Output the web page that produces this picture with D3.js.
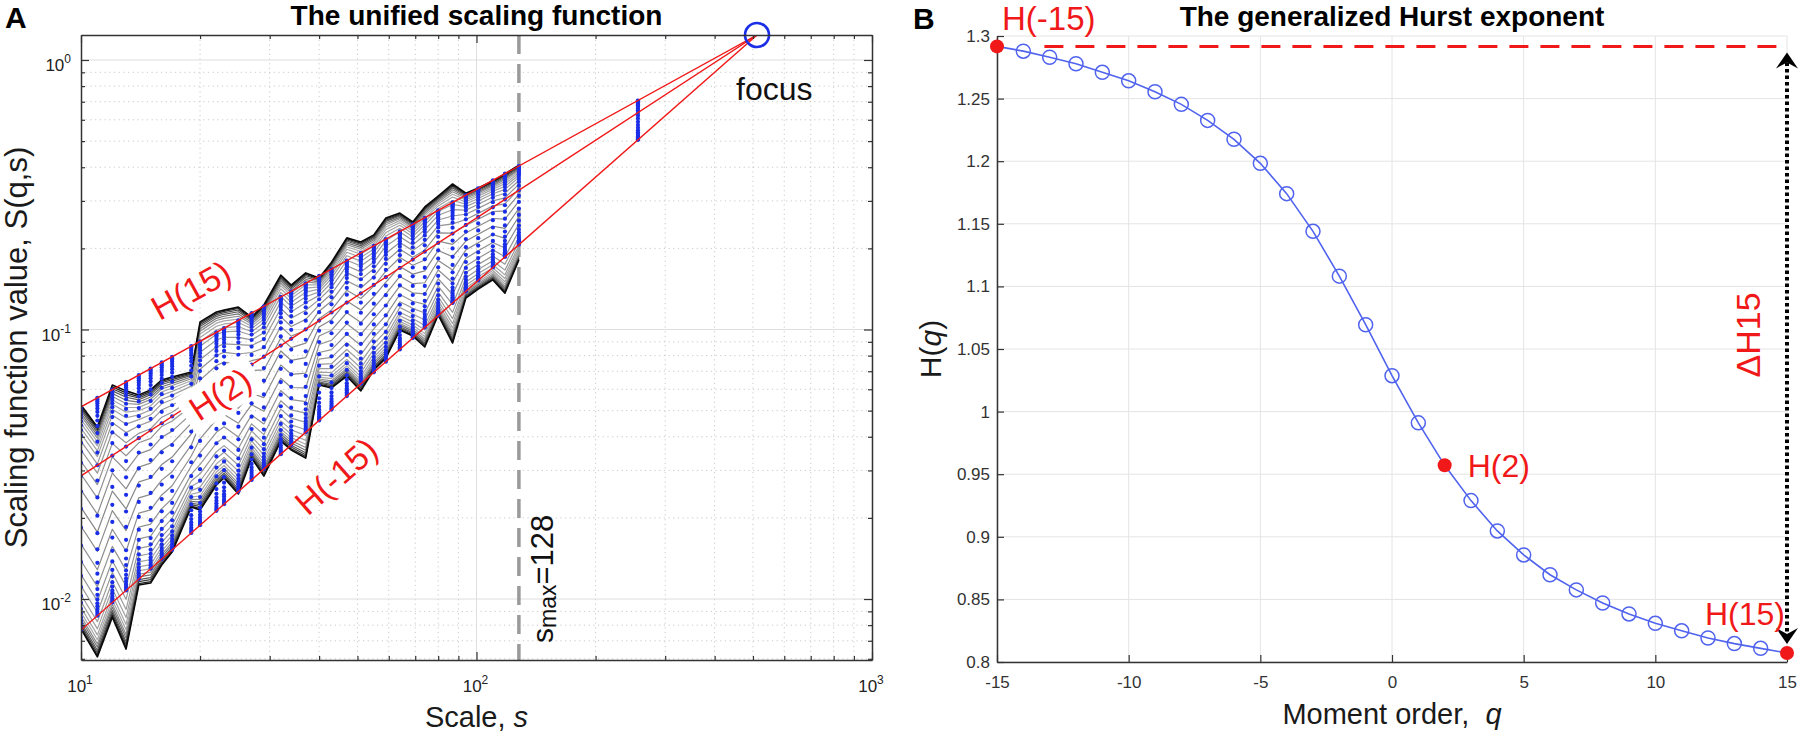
<!DOCTYPE html>
<html>
<head>
<meta charset="utf-8">
<script src="https://cdn.jsdelivr.net/npm/d3@7"></script>
<style>
  html, body { margin: 0; padding: 0; background: #fff; }
  svg { display: block; font-family: 'Liberation Sans', Arial, Helvetica, sans-serif; }
</style>
</head>
<body>
<svg id="chart" width="1800" height="736"></svg>
<script>
/* eslint-disable no-undef */

// window sizes s used in panel A (log spaced, rounded)
const scales = [10, 11, 12, 13, 14, 15, 16, 17, 19, 20, 22, 23, 25, 27, 29, 32, 34, 37, 40, 43, 47, 51, 55, 59, 64, 69, 74, 80, 87, 94, 101, 110, 118, 128]

// S(q,s) of the two outermost moment orders
const sQ15 = [0.0525, 0.0435, 0.0622, 0.0592, 0.0571, 0.0597, 0.0650, 0.0667, 0.0695, 0.1067, 0.1161, 0.1180, 0.1211, 0.1112, 0.1233, 0.1592, 0.1462, 0.1622, 0.1552, 0.1778, 0.2188, 0.2113, 0.2244, 0.2594, 0.2704, 0.2506, 0.2851, 0.3126, 0.3467, 0.3206, 0.3350, 0.3556, 0.3776, 0.4074]
const sQm15 = [0.00774, 0.00610, 0.00857, 0.00652, 0.01127, 0.01146, 0.01337, 0.01493, 0.02193, 0.02138, 0.02649, 0.02812, 0.02455, 0.03334, 0.02858, 0.03855, 0.03573, 0.03334, 0.0622, 0.0607, 0.0671, 0.0592, 0.0708, 0.0783, 0.0995, 0.0946, 0.0861, 0.1132, 0.0891, 0.1309, 0.1413, 0.1528, 0.1365, 0.1811]

// moment orders and generalized Hurst exponent (panel B)
const qOrders = [-15, -14, -13, -12, -11, -10, -9, -8, -7, -6, -5, -4, -3, -2, -1, 0, 1, 2, 3, 4, 5, 6, 7, 8, 9, 10, 11, 12, 13, 14, 15]
const hurst = [1.2917, 1.2879, 1.2830, 1.2778, 1.2710, 1.2642, 1.2555, 1.2454, 1.2326, 1.2175, 1.1983, 1.1741, 1.1440, 1.1082, 1.0694, 1.0287, 0.9910, 0.9571, 0.9289, 0.9047, 0.8855, 0.8697, 0.8576, 0.8471, 0.8384, 0.8309, 0.8249, 0.8192, 0.8147, 0.8109, 0.8072]

// focus of the fitted lines, extrapolated scale, s max
const focusPoint = { s: 512, value: 1.238 }
const extrapScale = 256
const smax = 128
const fitOrders = [15, 2, -15]
const markedOrders = [-15, 2, 15]

// ticks
const xTicksA = [10, 100, 1000]
const yTicksA = [0.01, 0.1, 1]
const minorSteps = [2, 3, 4, 5, 6, 7, 8, 9]
const qTicks = [-15, -10, -5, 0, 5, 10, 15]
const hTicks = [0.8, 0.85, 0.9, 0.95, 1, 1.05, 1.1, 1.15, 1.2, 1.25, 1.3]

const svg = d3.select('#chart')
const red = '#f01818'
const blue = '#1a2ee8'

const hOf = q => hurst[qOrders.indexOf(q)]

// ---------------- Panel A ----------------
const pa = { left: 81, top: 35, right: 872, bottom: 660 }
const xA = d3.scaleLog().domain([10, 1000]).range([pa.left, pa.right])
const yA = d3.scaleLog().domain([0.00594, focusPoint.value]).range([pa.bottom, pa.top])
const gA = svg.append('g')

gA.append('clipPath').attr('id', 'clipA')
  .append('rect')
  .attr('x', pa.left).attr('y', pa.top)
  .attr('width', pa.right - pa.left).attr('height', pa.bottom - pa.top)

// grid
const minorX = [10, 100].flatMap(d => minorSteps.map(m => d * m))
const minorY = [0.001, 0.01, 0.1].flatMap(d => minorSteps.map(m => d * m))
  .filter(v => v > yA.domain()[0] && v < yA.domain()[1])

const grid = gA.append('g')
grid.selectAll('.mx').data(minorX).join('line')
  .attr('x1', d => xA(d)).attr('x2', d => xA(d))
  .attr('y1', pa.top).attr('y2', pa.bottom)
  .attr('stroke', '#c9c9c9').attr('stroke-dasharray', '1.2,3.5')
grid.selectAll('.my').data(minorY).join('line')
  .attr('y1', d => yA(d)).attr('y2', d => yA(d))
  .attr('x1', pa.left).attr('x2', pa.right)
  .attr('stroke', '#c9c9c9').attr('stroke-dasharray', '1.2,3.5')
grid.selectAll('.gx').data(xTicksA.slice(1, -1)).join('line')
  .attr('x1', d => xA(d)).attr('x2', d => xA(d))
  .attr('y1', pa.top).attr('y2', pa.bottom)
  .attr('stroke', '#dedede')
grid.selectAll('.gy').data(yTicksA).join('line')
  .attr('y1', d => yA(d)).attr('y2', d => yA(d))
  .attr('x1', pa.left).attr('x2', pa.right)
  .attr('stroke', '#dedede')

// s max dashed line
gA.append('line')
  .attr('x1', xA(smax)).attr('x2', xA(smax))
  .attr('y1', pa.top).attr('y2', pa.bottom)
  .attr('stroke', '#9a9a9a').attr('stroke-width', 3.5)
  .attr('stroke-dasharray', '19,10')

// fitted value of the q-order line through the focus
const fitLog = (h, s) => Math.log10(focusPoint.value) + h * (Math.log10(s) - Math.log10(focusPoint.s))

// gray S(q,s) lines: fitted line plus the deviations of the outer orders
const hTop = hOf(15)
const hBot = hOf(-15)
const devTop = scales.map((s, i) => Math.log10(sQ15[i]) - fitLog(hTop, s))
const devBot = scales.map((s, i) => Math.log10(sQm15[i]) - fitLog(hBot, s))
const qLines = qOrders.map((q, k) => {
  const w = (hurst[k] - hTop) / (hBot - hTop)
  return {
    q,
    pts: scales.map((s, i) => ({ s, v: Math.pow(10, fitLog(hurst[k], s) + (1 - w) * devTop[i] + w * devBot[i]) }))
  }
}).sort((a, b) => Math.abs(a.q) - Math.abs(b.q))

// dark at the outer orders, lighter towards the middle
const grayScale = d3.scaleLinear().domain([0, 9, 15]).range([135, 168, 10])
const grayOf = q => {
  const g = Math.round(grayScale(Math.abs(q)))
  return `rgb(${g},${g},${g})`
}

const lineA = d3.line().x(d => xA(d.s)).y(d => yA(d.v))
const data = gA.append('g').attr('clip-path', 'url(#clipA)')
data.selectAll('.qline').data(qLines).join('path')
  .attr('fill', 'none')
  .attr('stroke', d => grayOf(d.q))
  .attr('stroke-width', d => Math.abs(d.q) === 15 ? 1.6 : 1.2)
  .attr('stroke-linejoin', 'round')
  .attr('d', d => lineA(d.pts))

// blue fitted points at every scale and at the extrapolated one
const fitPts = scales.concat([extrapScale]).flatMap(s => hurst.map(h => ({ s, v: Math.pow(10, fitLog(h, s)) })))
data.selectAll('.fp').data(fitPts).join('circle')
  .attr('cx', d => xA(d.s)).attr('cy', d => yA(d.v))
  .attr('r', 2.1).attr('fill', blue)

// red fit lines to the focus
data.selectAll('.fit').data(fitOrders).join('path')
  .attr('fill', 'none').attr('stroke', red).attr('stroke-width', 1.4)
  .attr('d', q => lineA([scales[0], focusPoint.s].map(s => ({ s, v: Math.pow(10, fitLog(hOf(q), s)) }))))

// focus
gA.append('circle')
  .attr('cx', xA(focusPoint.s)).attr('cy', yA(focusPoint.value))
  .attr('r', 12).attr('fill', 'none').attr('stroke', blue).attr('stroke-width', 2.6)
gA.append('text').attr('x', 736).attr('y', 100)
  .attr('font-size', 32).attr('fill', '#111').text('focus')

// labels along the fit lines
const angleOf = q => {
  const x0 = xA(scales[0]); const y0 = yA(Math.pow(10, fitLog(hOf(q), scales[0])))
  const x1 = xA(focusPoint.s); const y1 = yA(focusPoint.value)
  return Math.atan2(y1 - y0, x1 - x0) * 180 / Math.PI
}
const fitLabels = [
  { q: 15, text: 'H(15)', cx: 191, cy: 290, bg: false },
  { q: 2, text: 'H(2)', cx: 220, cy: 394, bg: true },
  { q: -15, text: 'H(-15)', cx: 336, cy: 476, bg: false }
]
fitLabels.forEach(l => {
  const g = gA.append('g').attr('transform', `translate(${l.cx},${l.cy}) rotate(${angleOf(l.q)})`)
  if (l.bg) g.append('rect').attr('x', -42).attr('y', -21).attr('width', 84).attr('height', 42).attr('fill', '#fff')
  g.append('text').attr('text-anchor', 'middle').attr('dominant-baseline', 'central')
    .attr('font-size', 34).attr('fill', red).text(l.text)
})

// s max label
const smaxLabel = gA.append('text')
  .attr('transform', `translate(${xA(smax) + 34},643) rotate(-90)`)
  .attr('fill', '#111')
smaxLabel.append('tspan').attr('font-size', 30).text('s')
smaxLabel.append('tspan').attr('font-size', 23).attr('dy', 3).text('max')
smaxLabel.append('tspan').attr('font-size', 31).attr('dy', -3).text('=' + smax)

// axes box with inward ticks
const styleAxis = g => {
  g.selectAll('.domain').attr('stroke', '#333').attr('stroke-width', 1.5)
  g.selectAll('.tick line').attr('stroke', '#333').attr('stroke-width', 1.2)
}
const boxSides = [
  { axis: d3.axisBottom, t: `translate(0,${pa.bottom})`, scale: xA, major: xTicksA, minor: minorX },
  { axis: d3.axisTop, t: `translate(0,${pa.top})`, scale: xA, major: xTicksA, minor: minorX },
  { axis: d3.axisLeft, t: `translate(${pa.left},0)`, scale: yA, major: yTicksA, minor: minorY },
  { axis: d3.axisRight, t: `translate(${pa.right},0)`, scale: yA, major: yTicksA, minor: minorY }
]
boxSides.forEach(b => {
  gA.append('g').attr('transform', b.t)
    .call(b.axis(b.scale).tickValues(b.minor).tickSize(-4).tickSizeOuter(0).tickFormat(''))
    .call(g => g.select('.domain').remove())
    .call(styleAxis)
  gA.append('g').attr('transform', b.t)
    .call(b.axis(b.scale).tickValues(b.major).tickSize(-8).tickSizeOuter(0).tickFormat(''))
    .call(styleAxis)
})

// power-of-ten tick labels
xTicksA.forEach(v => {
  const t = gA.append('text').attr('x', xA(v) - 1).attr('y', pa.bottom + 32)
    .attr('text-anchor', 'middle').attr('font-size', 17).attr('fill', '#222')
  t.append('tspan').text('10')
  t.append('tspan').attr('dy', -8).attr('font-size', 12).text(Math.round(Math.log10(v)))
})
yTicksA.forEach(v => {
  const t = gA.append('text').attr('x', pa.left - 10).attr('y', yA(v) + 11)
    .attr('text-anchor', 'end').attr('font-size', 17).attr('fill', '#222')
  t.append('tspan').text('10')
  t.append('tspan').attr('dy', -8).attr('font-size', 12).text(Math.round(Math.log10(v)))
})

// titles and axis labels A
gA.append('text').attr('x', 5).attr('y', 28).attr('font-size', 30).attr('font-weight', 'bold').text('A')
gA.append('text').attr('x', (pa.left + pa.right) / 2).attr('y', 25)
  .attr('text-anchor', 'middle').attr('font-size', 28).attr('font-weight', 'bold')
  .text('The unified scaling function')
const xLabA = gA.append('text').attr('x', (pa.left + pa.right) / 2).attr('y', 727)
  .attr('text-anchor', 'middle').attr('font-size', 29).attr('fill', '#1a1a1a')
xLabA.append('tspan').text('Scale, ')
xLabA.append('tspan').attr('font-style', 'italic').text('s')
gA.append('text')
  .attr('transform', `translate(27,${(pa.top + pa.bottom) / 2}) rotate(-90)`)
  .attr('text-anchor', 'middle').attr('font-size', 31).attr('fill', '#1a1a1a')
  .text('Scaling function value, S(q,s)')

// ---------------- Panel B ----------------
const pb = { left: 997, top: 36, right: 1787, bottom: 662 }
const xB = d3.scaleLinear().domain([-15, 15]).range([pb.left, pb.right])
const yB = d3.scaleLinear().domain([0.8, 1.3]).range([pb.bottom, pb.top])
const gB = svg.append('g')

gB.selectAll('.gx').data(qTicks).join('line')
  .attr('x1', d => xB(d)).attr('x2', d => xB(d))
  .attr('y1', pb.top).attr('y2', pb.bottom)
  .attr('stroke', '#e4e4e4')
gB.selectAll('.gy').data(hTicks).join('line')
  .attr('y1', d => yB(d)).attr('y2', d => yB(d))
  .attr('x1', pb.left).attr('x2', pb.right)
  .attr('stroke', '#e4e4e4')

gB.append('g').attr('transform', `translate(0,${pb.bottom})`)
  .call(d3.axisBottom(xB).tickValues(qTicks).tickSize(-7).tickSizeOuter(0).tickPadding(14).tickFormat(d => String(d)))
  .call(styleAxis)
  .call(g => g.selectAll('text').attr('font-size', 17).attr('fill', '#333').attr('font-family', null))
gB.append('g').attr('transform', `translate(${pb.left},0)`)
  .call(d3.axisLeft(yB).tickValues(hTicks).tickSize(-7).tickSizeOuter(0).tickPadding(7).tickFormat(d => String(d)))
  .call(styleAxis)
  .call(g => g.selectAll('text').attr('font-size', 17).attr('fill', '#333').attr('font-family', null))

// delta H dashed reference and the dotted double arrow
gB.append('line')
  .attr('x1', xB(-13.2)).attr('x2', xB(15))
  .attr('y1', yB(hOf(-15))).attr('y2', yB(hOf(-15)))
  .attr('stroke', red).attr('stroke-width', 3).attr('stroke-dasharray', '19,12')

const ax = xB(15)
const yTip0 = yB(hOf(-15)) + 6
const yTip1 = yB(hOf(15)) - 9
gB.append('line')
  .attr('x1', ax).attr('x2', ax).attr('y1', yTip0 + 10).attr('y2', yTip1 - 10)
  .attr('stroke', '#000').attr('stroke-width', 4).attr('stroke-dasharray', '3.5,3')
gB.append('path')
  .attr('d', `M${ax},${yTip0} L${ax - 11},${yTip0 + 16} L${ax},${yTip0 + 10} L${ax + 11},${yTip0 + 16} Z`)
  .attr('fill', '#000')
gB.append('path')
  .attr('d', `M${ax},${yTip1} L${ax - 11},${yTip1 - 16} L${ax},${yTip1 - 10} L${ax + 11},${yTip1 - 16} Z`)
  .attr('fill', '#000')

// H(q) curve
gB.append('path').datum(qOrders)
  .attr('fill', 'none').attr('stroke', '#5063ee').attr('stroke-width', 1.6)
  .attr('d', d3.line().x(q => xB(q)).y((q, i) => yB(hurst[i])))
gB.selectAll('.hc').data(qOrders.filter(q => !markedOrders.includes(q))).join('circle')
  .attr('cx', q => xB(q)).attr('cy', q => yB(hOf(q)))
  .attr('r', 7).attr('fill', 'none').attr('stroke', '#5063ee').attr('stroke-width', 1.5)
gB.selectAll('.hm').data(markedOrders).join('circle')
  .attr('cx', q => xB(q)).attr('cy', q => yB(hOf(q)))
  .attr('r', 7).attr('fill', red)

// red annotations
gB.append('text').attr('x', 1002).attr('y', 30).attr('font-size', 33).attr('fill', red).text('H(-15)')
gB.append('text').attr('x', xB(2) + 23).attr('y', yB(hOf(2)) + 12).attr('font-size', 32).attr('fill', red).text('H(2)')
gB.append('text').attr('x', pb.right - 2).attr('y', 625).attr('text-anchor', 'end')
  .attr('font-size', 32).attr('fill', red).text('H(15)')
gB.append('text')
  .attr('transform', `translate(1760,335) rotate(-90)`)
  .attr('text-anchor', 'middle').attr('font-size', 34).attr('fill', red).text('\u0394H15')

// titles and axis labels B
gB.append('text').attr('x', 913).attr('y', 29).attr('font-size', 30).attr('font-weight', 'bold').text('B')
gB.append('text').attr('x', (pb.left + pb.right) / 2).attr('y', 26)
  .attr('text-anchor', 'middle').attr('font-size', 28).attr('font-weight', 'bold')
  .text('The generalized Hurst exponent')
const xLabB = gB.append('text').attr('x', (pb.left + pb.right) / 2).attr('y', 724)
  .attr('text-anchor', 'middle').attr('font-size', 29).attr('fill', '#1a1a1a')
xLabB.append('tspan').text('Moment order,\u00a0 ')
xLabB.append('tspan').attr('font-style', 'italic').text('q')
const yLabB = gB.append('text')
  .attr('transform', `translate(941,${(pb.top + pb.bottom) / 2}) rotate(-90)`)
  .attr('text-anchor', 'middle').attr('font-size', 30).attr('fill', '#1a1a1a')
yLabB.append('tspan').text('H(')
yLabB.append('tspan').attr('font-style', 'italic').text('q')
yLabB.append('tspan').text(')')
</script>
</body>
</html>
